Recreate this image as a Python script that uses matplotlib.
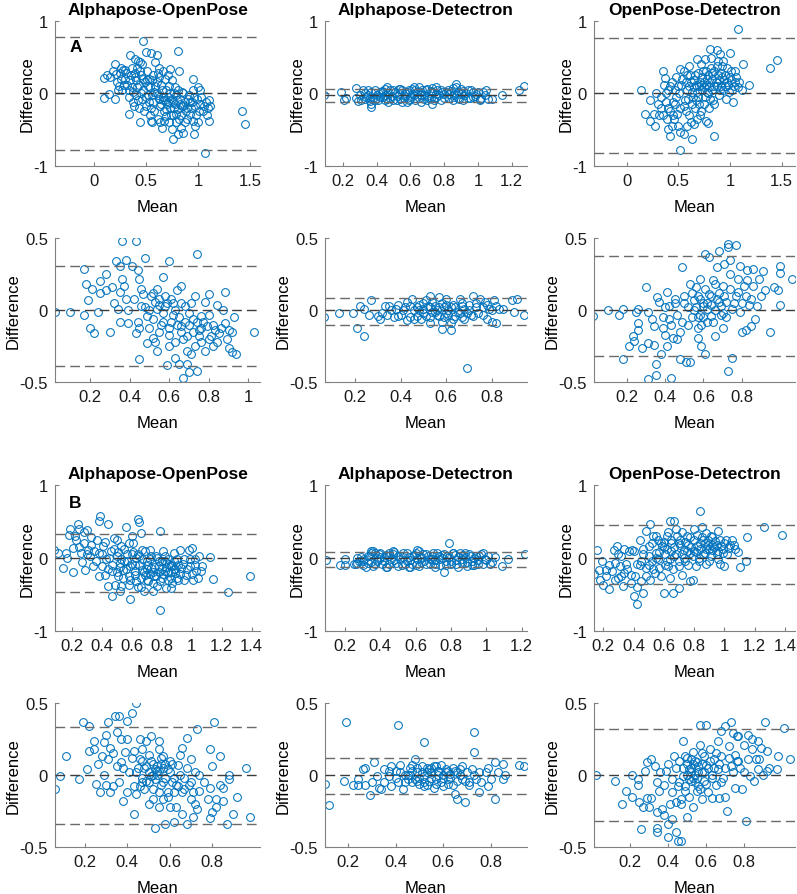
import matplotlib
matplotlib.use("Agg")
import matplotlib.pyplot as plt
from matplotlib.ticker import FuncFormatter

plt.rcParams['font.family'] = ['Liberation Sans', 'DejaVu Sans']
plt.rcParams['axes.unicode_minus'] = False

titles = ['Alphapose-OpenPose', 'Alphapose-Detectron', 'OpenPose-Detectron']

# ---- panel A, top row (full range) ----
a_ap_op = [(0.47, 0.72), (0.81, 0.58), (0.50, 0.57), (0.55, 0.56), (0.60, 0.53), (0.34, 0.53),
           (0.39, 0.47), (0.44, 0.43), (0.59, 0.43), (0.20, 0.40), (0.73, 0.34), (0.82, 0.30),
           (0.95, 0.19), (0.09, 0.21), (0.12, 0.25), (0.09, -0.06), (0.14, -0.01), (0.20, -0.08),
           (0.33, -0.28), (0.44, -0.40), (0.55, -0.38), (0.63, -0.40), (0.75, -0.49), (0.81, -0.56),
           (0.76, -0.63), (0.86, -0.55), (0.96, -0.56), (1.07, -0.83), (1.11, -0.38), (1.12, -0.18),
           (1.42, -0.25), (1.45, -0.42), (1.00, 0.08), (1.02, 0.04),
           (0.15, 0.22), (0.18, 0.30), (0.22, 0.15), (0.25, 0.28), (0.27, 0.05), (0.30, 0.20),
           (0.28, 0.32), (0.24, 0.10), (0.32, 0.12), (0.35, 0.25), (0.37, 0.02), (0.40, 0.18),
           (0.42, -0.10), (0.38, -0.18), (0.44, 0.30), (0.41, 0.08), (0.36, 0.35), (0.47, 0.20),
           (0.50, -0.05), (0.52, 0.10), (0.55, -0.20), (0.57, 0.25), (0.48, -0.25), (0.58, 0.02),
           (0.53, -0.12), (0.60, 0.15), (0.62, -0.08), (0.65, 0.05), (0.67, -0.25), (0.70, -0.15),
           (0.72, 0.10), (0.74, -0.30), (0.63, -0.18), (0.68, 0.20), (0.71, -0.05), (0.77, -0.20),
           (0.80, -0.10), (0.82, -0.35), (0.85, 0.02), (0.88, -0.25), (0.78, 0.08), (0.83, -0.15),
           (0.87, -0.40), (0.90, -0.08), (0.93, -0.20), (0.96, -0.05), (0.98, -0.30), (1.02, -0.15),
           (1.05, -0.25), (1.08, -0.12), (0.95, 0.05), (1.10, -0.20), (1.00, -0.40), (0.33, 0.05),
           (0.45, 0.00), (0.56, -0.02), (0.66, -0.10), (0.76, -0.12), (0.86, -0.18), (0.92, -0.12),
           (0.26, 0.20), (0.39, 0.28), (0.51, 0.18), (0.61, 0.28), (0.69, -0.32), (0.79, -0.28),
           (0.21, 0.27), (0.23, 0.05), (0.26, 0.35), (0.29, 0.12), (0.31, 0.28), (0.33, -0.05),
           (0.34, 0.18), (0.36, 0.08), (0.37, -0.12), (0.39, 0.22), (0.40, -0.02), (0.41, 0.35),
           (0.43, 0.12), (0.43, -0.20), (0.45, 0.25), (0.46, -0.08), (0.47, 0.05), (0.49, 0.15),
           (0.50, -0.18), (0.51, 0.30), (0.52, -0.02), (0.54, 0.08), (0.54, -0.30), (0.56, 0.18),
           (0.57, -0.12), (0.58, -0.25), (0.59, 0.10), (0.61, -0.02), (0.61, -0.35), (0.62, 0.22),
           (0.64, -0.15), (0.64, 0.12), (0.66, -0.05), (0.66, 0.30), (0.67, -0.38), (0.69, 0.05),
           (0.69, -0.22), (0.71, -0.12), (0.72, -0.40), (0.73, 0.00), (0.73, -0.20), (0.75, -0.08),
           (0.75, 0.18), (0.76, -0.30), (0.78, -0.15), (0.79, -0.02), (0.79, -0.40), (0.81, -0.22),
           (0.81, 0.05), (0.83, -0.08), (0.84, -0.30), (0.85, -0.18), (0.86, 0.00), (0.87, -0.12),
           (0.89, -0.35), (0.89, -0.20), (0.91, -0.02), (0.92, -0.28), (0.94, -0.12), (0.95, -0.38),
           (0.97, -0.18), (0.99, -0.08), (1.01, -0.25), (1.03, -0.05), (1.06, -0.18), (1.09, -0.30),
           (1.11, -0.10), (0.77, 0.00), (0.68, -0.10), (0.60, 0.00), (0.53, 0.20), (0.46, 0.40),
           (0.42, 0.45), (0.30, 0.32), (0.56, -0.40), (0.65, -0.48), (0.84, -0.48), (0.97, -0.45),
           (0.71, 0.25), (0.62, 0.35)]
a_ap_op_lines = [0.78, 0.0, -0.78]

a_ap_dt = [(0.09, -0.03), (0.19, 0.02), (0.21, -0.10), (0.22, -0.07), (0.28, 0.07), (0.37, -0.19),
           (0.37, -0.15), (0.46, 0.08), (0.87, 0.13), (1.05, 0.04), (1.08, -0.08), (1.14, -0.03),
           (1.24, 0.04), (1.27, 0.10), (0.73, -0.15), (1.01, -0.10),
           (0.28, -0.07), (0.30, -0.03), (0.31, -0.09), (0.33, 0.00), (0.34, -0.05), (0.36, -0.11),
           (0.37, 0.02), (0.38, -0.06), (0.40, -0.02), (0.41, -0.10), (0.43, 0.03), (0.44, -0.05),
           (0.46, -0.08), (0.47, 0.00), (0.49, -0.04), (0.50, 0.05), (0.52, -0.09), (0.53, -0.01),
           (0.55, 0.04), (0.56, -0.06), (0.58, 0.02), (0.59, -0.10), (0.61, 0.06), (0.62, -0.03),
           (0.64, 0.01), (0.65, -0.07), (0.67, 0.04), (0.68, -0.02), (0.70, 0.06), (0.71, -0.06),
           (0.73, 0.01), (0.74, -0.09), (0.76, 0.04), (0.77, -0.03), (0.79, 0.02), (0.80, -0.07),
           (0.82, 0.05), (0.83, -0.01), (0.85, 0.07), (0.86, -0.05), (0.88, 0.02), (0.89, -0.08),
           (0.91, 0.03), (0.92, -0.03), (0.94, 0.05), (0.95, -0.06), (0.97, 0.01), (0.98, -0.04),
           (1.00, 0.02), (1.02, -0.06), (1.04, -0.02), (1.06, -0.08), (0.45, 0.06), (0.60, -0.05),
           (0.70, -0.10), (0.75, 0.08), (0.90, 0.06), (0.55, -0.12), (0.65, 0.08), (0.35, 0.04),
           (0.29, -0.11), (0.32, 0.04), (0.33, -0.08), (0.35, -0.02), (0.36, -0.06), (0.39, 0.05),
           (0.39, -0.09), (0.42, -0.05), (0.42, 0.01), (0.45, -0.10), (0.45, -0.02), (0.48, 0.04),
           (0.48, -0.07), (0.50, -0.10), (0.51, 0.01), (0.52, -0.04), (0.54, 0.06), (0.54, -0.08),
           (0.57, 0.00), (0.57, -0.04), (0.59, 0.05), (0.60, -0.08), (0.61, -0.01), (0.63, 0.04),
           (0.63, -0.10), (0.66, -0.03), (0.66, 0.02), (0.68, -0.08), (0.69, 0.05), (0.70, -0.04),
           (0.72, 0.03), (0.72, -0.07), (0.75, -0.01), (0.75, -0.05), (0.78, 0.05), (0.78, -0.09),
           (0.80, -0.01), (0.81, 0.02), (0.83, -0.06), (0.84, 0.03), (0.86, -0.02), (0.87, 0.09),
           (0.88, -0.06), (0.90, -0.01), (0.91, -0.10), (0.93, 0.00), (0.94, -0.07), (0.96, 0.04),
           (0.97, -0.05), (0.99, -0.01), (1.01, -0.08), (1.03, 0.01), (0.62, 0.08), (0.53, 0.06),
           (0.44, 0.02), (0.73, 0.07), (0.85, -0.09), (0.58, -0.12), (0.66, -0.12), (0.47, -0.12)]
a_ap_dt_lines = [0.06, -0.03, -0.12]

a_op_dt = [(1.08, 0.88), (1.39, 0.35), (1.46, 0.46), (0.14, 0.04), (0.81, 0.61), (0.87, 0.59),
           (1.00, 0.55), (0.90, 0.54), (0.68, 0.47), (0.76, 0.47), (0.52, 0.33), (0.35, 0.31),
           (0.37, 0.21), (1.13, 0.40), (1.18, 0.11), (1.05, 0.31), (0.18, -0.28), (0.23, -0.38),
           (0.27, -0.45), (0.40, -0.49), (0.42, -0.59), (0.52, -0.79), (0.52, -0.54), (0.55, -0.56),
           (0.63, -0.63), (0.65, -0.42), (0.77, -0.38), (0.79, -0.41), (0.85, -0.59), (0.26, -0.28),
           (0.28, 0.00), (0.23, -0.10),
           (0.30, -0.15), (0.33, -0.05), (0.35, -0.30), (0.38, -0.12), (0.40, 0.05), (0.42, -0.25),
           (0.44, 0.15), (0.46, -0.35), (0.48, -0.05), (0.50, 0.10), (0.52, -0.20), (0.54, 0.20),
           (0.56, -0.10), (0.58, 0.05), (0.60, -0.30), (0.62, 0.15), (0.64, -0.05), (0.66, 0.25),
           (0.68, 0.02), (0.70, -0.15), (0.72, 0.12), (0.74, 0.30), (0.76, -0.05), (0.78, 0.20),
           (0.80, 0.08), (0.82, 0.35), (0.84, -0.10), (0.86, 0.15), (0.88, 0.25), (0.90, 0.05),
           (0.92, 0.38), (0.94, 0.18), (0.96, -0.08), (0.98, 0.12), (1.00, 0.22), (1.02, 0.05),
           (1.05, 0.15), (1.08, 0.08), (1.03, -0.12), (0.66, -0.20), (0.58, 0.25), (0.48, 0.22),
           (0.44, -0.45), (0.36, 0.12), (0.62, -0.40), (0.72, -0.25), (0.88, 0.45), (0.80, -0.20),
           (0.70, 0.10), (0.75, 0.15), (0.85, 0.10), (0.95, 0.10), (0.65, 0.08), (0.78, 0.02),
           (0.92, 0.22), (0.83, 0.28), (0.57, -0.25), (0.47, -0.15), (0.39, -0.35), (0.31, -0.30),
           (0.40, -0.20), (0.42, 0.10), (0.45, -0.12), (0.47, 0.05), (0.49, -0.28), (0.51, 0.00),
           (0.53, 0.12), (0.55, -0.18), (0.57, 0.15), (0.59, -0.08), (0.60, 0.10), (0.61, 0.25),
           (0.63, 0.02), (0.63, -0.15), (0.65, 0.18), (0.67, -0.10), (0.67, 0.12), (0.69, 0.28),
           (0.69, -0.05), (0.71, 0.15), (0.71, -0.30), (0.73, 0.05), (0.73, 0.22), (0.75, 0.08),
           (0.75, -0.15), (0.77, 0.30), (0.77, 0.12), (0.79, 0.00), (0.79, 0.25), (0.81, 0.15),
           (0.81, -0.08), (0.83, 0.20), (0.83, 0.05), (0.85, 0.30), (0.85, -0.15), (0.87, 0.10),
           (0.87, 0.38), (0.89, 0.18), (0.89, -0.02), (0.91, 0.28), (0.91, 0.10), (0.93, 0.05),
           (0.93, 0.45), (0.95, 0.25), (0.97, 0.15), (0.97, 0.35), (0.99, 0.02), (1.01, 0.18),
           (1.01, 0.30), (1.04, 0.10), (1.06, 0.22), (1.09, 0.15), (1.12, 0.05), (0.55, 0.30),
           (0.50, -0.45), (0.58, -0.45), (0.68, -0.35), (0.45, -0.30), (0.38, 0.00), (0.33, -0.20),
           (0.60, 0.38), (0.72, 0.40), (0.82, 0.48)]
a_op_dt_lines = [0.76, 0.0, -0.82]

# ---- panel A, second row ----
a2_ap_op = [(0.023, -0.01), (0.10, -0.01), (0.17, 0.29), (0.18, 0.18), (0.19, 0.07), (0.17, -0.03),
            (0.20, -0.12), (0.22, -0.16), (0.21, 0.15), (0.24, -0.01), (0.25, 0.20), (0.25, 0.12),
            (0.28, 0.25), (0.28, 0.14), (0.31, 0.16), (0.30, -0.15), (0.33, 0.34), (0.35, 0.31),
            (0.36, 0.48), (0.35, 0.13), (0.37, 0.17), (0.34, 0.01), (0.35, -0.08), (0.38, 0.35),
            (0.38, 0.08), (0.39, -0.09), (0.41, 0.31), (0.43, 0.48), (0.43, -0.16), (0.44, 0.28),
            (0.45, 0.22), (0.45, -0.34), (0.46, 0.03), (0.47, 0.11), (0.49, -0.23), (0.48, 0.36),
            (0.49, -0.04), (0.51, 0.10), (0.52, -0.19), (0.54, 0.15), (0.54, -0.28), (0.54, 0.01),
            (0.57, 0.23), (0.57, -0.08), (0.58, 0.03), (0.59, -0.38), (0.60, -0.17), (0.60, 0.34),
            (0.61, 0.08), (0.62, -0.03), (0.63, -0.22), (0.64, 0.14), (0.63, -0.33), (0.65, -0.37),
            (0.66, -0.11), (0.66, 0.17), (0.67, -0.47), (0.68, 0.03), (0.69, -0.18), (0.69, -0.37),
            (0.70, -0.43), (0.71, -0.30), (0.72, -0.06), (0.73, 0.10), (0.74, 0.39), (0.74, -0.42),
            (0.75, -0.14), (0.76, -0.04), (0.76, -0.22), (0.78, 0.06), (0.79, -0.11), (0.80, 0.11),
            (0.80, -0.03), (0.81, -0.18), (0.82, -0.25), (0.83, -0.14), (0.84, 0.04), (0.85, -0.16),
            (0.88, 0.13), (0.88, -0.09), (0.89, -0.20), (0.90, -0.26), (0.90, -0.14), (0.92, -0.15),
            (0.92, -0.29), (0.93, -0.05), (0.94, -0.30), (1.03, -0.15),
            (0.50, 0.00), (0.52, -0.06), (0.55, 0.04), (0.57, -0.02), (0.59, 0.05), (0.61, -0.08),
            (0.63, 0.00), (0.56, -0.10), (0.53, 0.06), (0.48, 0.02), (0.65, -0.05), (0.60, -0.12),
            (0.68, -0.08), (0.70, -0.02), (0.72, -0.15), (0.74, -0.08), (0.76, -0.12), (0.66, -0.15),
            (0.42, 0.08), (0.44, -0.08), (0.46, 0.15), (0.50, -0.12), (0.52, 0.12), (0.55, -0.15),
            (0.58, 0.10), (0.60, -0.25), (0.62, 0.05), (0.64, -0.10), (0.67, -0.20), (0.70, -0.10),
            (0.71, 0.05), (0.73, -0.25), (0.75, -0.18), (0.77, -0.08), (0.78, -0.28), (0.80, -0.20),
            (0.82, -0.10), (0.84, -0.22), (0.86, -0.12), (0.87, 0.00), (0.55, 0.08), (0.45, -0.12),
            (0.39, 0.00), (0.36, 0.22), (0.32, 0.05), (0.66, 0.05), (0.69, -0.28), (0.53, -0.22)]
a2_ap_op_lines = [0.308, 0.0, -0.389]

a2_ap_dt = [(0.065, -0.05), (0.13, -0.02), (0.19, -0.02), (0.21, -0.12), (0.22, 0.03), (0.24, 0.01),
            (0.24, -0.18), (0.26, -0.03), (0.27, 0.07), (0.30, -0.04), (0.31, -0.06), (0.33, 0.03),
            (0.35, 0.03), (0.34, -0.03), (0.37, -0.05), (0.38, 0.01), (0.39, 0.04), (0.40, -0.03),
            (0.42, 0.02), (0.43, -0.07), (0.45, 0.08), (0.46, 0.00), (0.47, -0.04), (0.48, 0.04),
            (0.49, -0.06), (0.50, 0.01), (0.51, 0.07), (0.53, 0.10), (0.53, -0.09), (0.54, -0.01),
            (0.55, 0.03), (0.57, 0.09), (0.57, -0.04), (0.58, -0.13), (0.59, 0.02), (0.60, 0.08),
            (0.61, -0.03), (0.62, -0.09), (0.62, -0.14), (0.63, 0.04), (0.65, -0.01), (0.66, 0.08),
            (0.67, -0.05), (0.68, 0.01), (0.69, -0.40), (0.70, 0.04), (0.71, -0.03), (0.72, 0.10),
            (0.73, 0.02), (0.75, 0.08), (0.76, -0.03), (0.77, 0.06), (0.78, -0.06), (0.79, 0.01),
            (0.80, -0.08), (0.81, 0.07), (0.82, -0.09), (0.83, 0.01), (0.85, 0.01), (0.89, 0.07),
            (0.91, 0.08), (0.90, -0.01), (0.94, -0.03),
            (0.50, -0.02), (0.52, 0.03), (0.55, -0.01), (0.58, 0.05), (0.60, -0.02), (0.62, 0.02),
            (0.64, -0.04), (0.56, 0.00), (0.53, -0.05), (0.67, 0.03), (0.69, -0.02), (0.47, 0.02),
            (0.44, -0.05), (0.41, 0.00),
            (0.44, 0.03), (0.46, -0.06), (0.48, 0.00), (0.50, 0.05), (0.51, -0.04), (0.53, 0.02),
            (0.54, 0.06), (0.56, -0.03), (0.57, 0.02), (0.59, -0.05), (0.60, 0.04), (0.61, 0.00),
            (0.63, -0.06), (0.64, 0.02), (0.66, -0.02), (0.67, 0.05), (0.68, -0.06), (0.70, 0.00),
            (0.72, -0.04), (0.73, 0.05), (0.74, -0.02), (0.76, 0.02), (0.78, 0.04), (0.80, 0.00),
            (0.82, 0.03), (0.39, -0.04), (0.36, 0.00), (0.32, -0.02), (0.43, 0.06), (0.58, -0.08)]
a2_ap_dt_lines = [0.088, 0.0, -0.104]

a2_op_dt = [(0.026, -0.04), (0.10, 0.00), (0.16, -0.03), (0.18, 0.01), (0.18, -0.34), (0.21, -0.25),
            (0.23, -0.18), (0.24, -0.21), (0.25, -0.01), (0.26, 0.01), (0.26, -0.14), (0.26, -0.09),
            (0.28, -0.26), (0.30, 0.16), (0.31, -0.23), (0.31, -0.48), (0.31, -0.01), (0.33, -0.06),
            (0.34, -0.11), (0.34, -0.24), (0.35, -0.45), (0.35, -0.37), (0.36, 0.09), (0.37, 0.06),
            (0.38, -0.30), (0.39, -0.05), (0.39, -0.12), (0.40, -0.17), (0.41, 0.13), (0.41, -0.25),
            (0.42, 0.03), (0.42, -0.06), (0.43, -0.47), (0.44, -0.19), (0.45, 0.08), (0.46, -0.03),
            (0.46, -0.20), (0.48, -0.34), (0.49, 0.30), (0.49, -0.08), (0.50, 0.10), (0.51, -0.36),
            (0.53, -0.36), (0.52, 0.02), (0.53, 0.18), (0.54, -0.05), (0.55, 0.07), (0.56, 0.16),
            (0.57, -0.12), (0.57, -0.19), (0.58, 0.22), (0.59, -0.25), (0.60, 0.03), (0.61, -0.30),
            (0.61, 0.39), (0.62, 0.01), (0.63, 0.37), (0.63, 0.11), (0.64, -0.04), (0.65, 0.21),
            (0.66, -0.18), (0.67, 0.30), (0.67, 0.08), (0.68, 0.41), (0.69, -0.03), (0.70, -0.12),
            (0.70, 0.17), (0.71, 0.32), (0.72, 0.06), (0.73, 0.46), (0.73, 0.44), (0.73, -0.42),
            (0.74, 0.35), (0.74, 0.25), (0.75, -0.33), (0.75, 0.01), (0.77, 0.10), (0.77, 0.45),
            (0.78, 0.22), (0.79, 0.31), (0.79, -0.01), (0.80, -0.15), (0.81, 0.17), (0.82, -0.14),
            (0.83, 0.21), (0.83, 0.28), (0.84, 0.04), (0.85, -0.11), (0.85, 0.08), (0.86, 0.29),
            (0.86, 0.17), (0.87, -0.06), (0.88, 0.03), (0.89, 0.22), (0.90, 0.10), (0.91, 0.27),
            (0.92, 0.14), (0.95, -0.15), (0.97, 0.16), (0.99, 0.14), (1.00, 0.31), (1.00, 0.26),
            (1.00, 0.04), (1.06, 0.22),
            (0.55, 0.00), (0.58, -0.03), (0.60, 0.05), (0.62, -0.08), (0.64, 0.04), (0.57, 0.10),
            (0.59, -0.10), (0.66, 0.00), (0.68, 0.06), (0.70, -0.02),
            (0.50, 0.05), (0.52, -0.10), (0.54, 0.12), (0.56, 0.02), (0.58, 0.08), (0.60, -0.05),
            (0.61, 0.15), (0.62, 0.05), (0.64, 0.10), (0.65, -0.08), (0.66, 0.18), (0.68, 0.12),
            (0.69, 0.03), (0.71, 0.10), (0.72, -0.05), (0.74, 0.15), (0.76, 0.05), (0.78, 0.13),
            (0.80, 0.05), (0.82, 0.10), (0.45, 0.05), (0.43, -0.10), (0.40, 0.02), (0.48, -0.15),
            (0.57, -0.05)]
a2_op_dt_lines = [0.38, 0.0, -0.315]

# ---- panel B, third row (full range) ----
b_ap_op = [(0.08, 0.11), (0.11, 0.06), (0.14, -0.14), (0.16, 0.07), (0.17, 0.00), (0.18, 0.32),
           (0.19, 0.39), (0.21, 0.14), (0.21, -0.20), (0.23, 0.25), (0.24, 0.46), (0.25, 0.39),
           (0.26, 0.07), (0.27, -0.06), (0.28, 0.21), (0.29, -0.16), (0.30, 0.38), (0.31, 0.11),
           (0.32, 0.02), (0.33, 0.18), (0.34, -0.11), (0.37, 0.25), (0.38, 0.07), (0.38, 0.50),
           (0.39, 0.58), (0.40, -0.11), (0.41, 0.16), (0.42, -0.24), (0.43, -0.02), (0.44, 0.46),
           (0.44, -0.39), (0.46, 0.09), (0.47, -0.53), (0.47, -0.18), (0.48, 0.27), (0.49, -0.37),
           (0.50, 0.02), (0.51, -0.25), (0.52, -0.07), (0.53, 0.16), (0.53, -0.39), (0.54, -0.16),
           (0.56, 0.43), (0.57, 0.05), (0.58, -0.37), (0.59, -0.57), (0.59, -0.11), (0.61, 0.21),
           (0.62, -0.23), (0.63, 0.00), (0.64, -0.40), (0.64, 0.54), (0.65, 0.49), (0.66, 0.34),
           (0.67, -0.16), (0.67, 0.11), (0.68, -0.46), (0.69, -0.23), (0.70, -0.05), (0.71, -0.32),
           (0.72, 0.11), (0.73, -0.14), (0.75, -0.25), (0.76, 0.02), (0.77, -0.39), (0.78, -0.11),
           (0.79, 0.37), (0.79, -0.72), (0.80, -0.27), (0.81, 0.09), (0.82, -0.18), (0.83, -0.41),
           (0.84, -0.02), (0.86, -0.27), (0.87, -0.11), (0.88, 0.07), (0.89, -0.21), (0.90, -0.02),
           (0.91, -0.30), (0.92, 0.11), (0.93, -0.14), (0.95, -0.02), (0.96, -0.23), (0.98, 0.11),
           (0.99, -0.11), (1.00, 0.14), (1.01, -0.30), (1.02, -0.02), (1.03, -0.18), (1.05, 0.02),
           (1.07, -0.11), (1.12, 0.01), (1.14, -0.29), (1.24, -0.47), (1.39, -0.25),
           (0.55, -0.05), (0.60, 0.05), (0.62, -0.10), (0.65, 0.02), (0.70, -0.15), (0.72, -0.02),
           (0.74, -0.20), (0.78, -0.05), (0.80, -0.15), (0.82, -0.05), (0.84, -0.20), (0.86, -0.10),
           (0.88, -0.15), (0.66, -0.28), (0.58, -0.25), (0.52, -0.12),
           (0.45, 0.00), (0.47, -0.10), (0.48, 0.12), (0.50, -0.20), (0.51, 0.08), (0.53, -0.02),
           (0.54, -0.28), (0.55, 0.12), (0.56, -0.15), (0.57, -0.05), (0.58, 0.20), (0.59, -0.30),
           (0.60, -0.08), (0.61, 0.08), (0.62, -0.18), (0.63, -0.32), (0.64, 0.05), (0.65, -0.10),
           (0.66, -0.40), (0.67, -0.02), (0.68, -0.20), (0.69, 0.10), (0.70, -0.30), (0.71, -0.10),
           (0.72, -0.22), (0.73, 0.02), (0.74, -0.35), (0.75, -0.12), (0.76, -0.25), (0.77, 0.00),
           (0.78, -0.20), (0.79, -0.32), (0.80, -0.05), (0.81, -0.22), (0.82, 0.02), (0.83, -0.12),
           (0.84, -0.30), (0.85, -0.08), (0.86, -0.20), (0.87, -0.35), (0.88, -0.05), (0.89, -0.15),
           (0.90, -0.28), (0.91, -0.10), (0.92, -0.22), (0.94, -0.08), (0.95, -0.30), (0.97, -0.15),
           (0.99, -0.02), (1.00, -0.22), (1.02, -0.10), (1.04, -0.28), (1.06, -0.18), (0.40, 0.05),
           (0.35, 0.10), (0.30, 0.05), (0.25, 0.15), (0.22, 0.30), (0.28, 0.35), (0.33, 0.28),
           (0.42, 0.22), (0.36, -0.05), (0.44, -0.15), (0.38, -0.25), (0.50, 0.25), (0.60, 0.30),
           (0.52, -0.45), (0.74, -0.45), (0.86, -0.42)]
b_ap_op_lines = [0.33, 0.0, -0.47]

b_ap_dt = [(0.09, -0.03), (0.17, -0.10), (0.20, -0.10), (0.20, -0.02), (0.25, -0.08), (0.27, 0.00),
           (0.35, 0.09), (0.79, 0.21), (0.76, -0.20), (1.09, -0.11), (1.12, -0.02), (1.05, 0.01),
           (1.22, 0.05), (0.98, 0.07), (0.61, 0.11),
           (0.26, -0.09), (0.28, -0.05), (0.30, -0.10), (0.31, -0.02), (0.33, -0.07), (0.34, 0.03),
           (0.36, -0.11), (0.37, 0.06), (0.38, -0.04), (0.40, 0.01), (0.41, -0.08), (0.43, 0.04),
           (0.44, -0.12), (0.46, -0.02), (0.47, 0.05), (0.49, -0.07), (0.50, 0.02), (0.52, -0.10),
           (0.53, 0.06), (0.55, -0.04), (0.56, 0.01), (0.58, -0.08), (0.59, 0.04), (0.61, -0.02),
           (0.62, -0.11), (0.64, 0.05), (0.65, -0.05), (0.67, 0.02), (0.68, -0.08), (0.70, 0.07),
           (0.71, -0.03), (0.73, 0.03), (0.74, -0.10), (0.76, 0.05), (0.77, -0.05), (0.79, 0.01),
           (0.80, -0.09), (0.82, 0.04), (0.83, -0.03), (0.85, 0.06), (0.86, -0.07), (0.88, 0.01),
           (0.89, -0.11), (0.91, 0.03), (0.92, -0.04), (0.94, 0.02), (0.95, -0.08), (0.97, 0.05),
           (0.99, -0.02), (1.01, 0.02), (1.03, -0.06), (0.45, 0.07), (0.57, -0.12), (0.69, -0.01),
           (0.81, 0.07), (0.93, -0.10), (0.39, 0.05), (0.63, 0.00), (0.75, 0.00),
           (0.27, -0.07), (0.29, 0.01), (0.30, -0.05), (0.32, -0.12), (0.33, 0.02), (0.35, -0.06),
           (0.35, 0.07), (0.37, -0.09), (0.39, -0.01), (0.40, 0.06), (0.42, -0.05), (0.42, 0.01),
           (0.45, -0.08), (0.45, 0.03), (0.48, -0.03), (0.48, 0.08), (0.50, -0.11), (0.51, -0.02),
           (0.53, 0.01), (0.54, -0.08), (0.55, 0.07), (0.57, -0.03), (0.58, 0.02), (0.60, -0.10),
           (0.60, 0.06), (0.63, -0.06), (0.63, 0.01), (0.66, -0.09), (0.66, 0.05), (0.68, -0.02),
           (0.69, 0.03), (0.71, -0.09), (0.72, 0.06), (0.74, -0.02), (0.75, 0.04), (0.77, -0.10),
           (0.78, 0.02), (0.80, -0.04), (0.81, 0.06), (0.83, -0.09), (0.84, 0.01), (0.86, -0.02),
           (0.87, 0.04), (0.89, -0.06), (0.90, 0.05), (0.92, -0.10), (0.93, 0.00), (0.95, -0.03),
           (0.96, 0.03), (0.98, -0.08), (1.00, -0.03), (1.02, -0.09), (0.43, -0.12), (0.56, -0.12),
           (0.71, -0.12), (0.84, -0.12), (0.62, 0.09), (0.47, 0.09), (0.36, 0.09), (0.88, 0.07)]
b_ap_dt_lines = [0.078, 0.0, -0.119]

b_op_dt = [(0.14, -0.22), (0.16, 0.11), (0.17, -0.16), (0.18, -0.30), (0.19, -0.05), (0.20, -0.37),
           (0.22, -0.16), (0.24, -0.43), (0.26, -0.18), (0.27, 0.11), (0.28, -0.07), (0.29, 0.16),
           (0.30, -0.27), (0.31, -0.11), (0.32, 0.02), (0.33, -0.39), (0.34, -0.21), (0.35, -0.08),
           (0.37, 0.09), (0.38, -0.23), (0.39, 0.11), (0.40, -0.52), (0.41, -0.25), (0.42, -0.63),
           (0.42, -0.09), (0.44, 0.25), (0.45, -0.32), (0.46, -0.48), (0.46, 0.05), (0.48, 0.37),
           (0.48, -0.14), (0.50, 0.16), (0.51, -0.31), (0.51, 0.46), (0.52, -0.05), (0.53, 0.30),
           (0.54, -0.21), (0.55, 0.07), (0.56, 0.25), (0.57, -0.14), (0.59, 0.16), (0.60, -0.48),
           (0.61, 0.05), (0.62, 0.30), (0.63, -0.11), (0.64, 0.50), (0.64, -0.27), (0.65, 0.21),
           (0.66, -0.48), (0.67, 0.50), (0.67, 0.02), (0.68, 0.39), (0.70, -0.11), (0.70, -0.41),
           (0.71, 0.25), (0.72, -0.23), (0.73, 0.11), (0.74, -0.05), (0.75, 0.30), (0.77, 0.07),
           (0.77, -0.32), (0.79, -0.30), (0.80, 0.40), (0.81, -0.11), (0.82, 0.16), (0.83, 0.00),
           (0.84, 0.64), (0.85, 0.43), (0.86, 0.25), (0.87, 0.07), (0.88, 0.34), (0.89, 0.17),
           (0.90, -0.05), (0.91, 0.30), (0.92, 0.11), (0.94, 0.23), (0.95, 0.05), (0.96, 0.37),
           (0.97, -0.09), (0.98, 0.16), (0.99, 0.07), (1.00, -0.11), (1.01, 0.25), (1.03, 0.14),
           (1.05, 0.25), (1.06, 0.17), (1.09, 0.08), (1.10, -0.12), (1.14, -0.04), (1.15, 0.29),
           (1.26, 0.43), (1.38, 0.31),
           (0.60, 0.15), (0.65, 0.10), (0.70, 0.20), (0.72, 0.05), (0.76, 0.18), (0.80, 0.10),
           (0.84, 0.20), (0.88, 0.12), (0.92, 0.18), (0.96, 0.10), (0.55, 0.00), (0.50, -0.10),
           (0.45, -0.05), (0.58, 0.20), (0.62, -0.05),
           (0.44, -0.10), (0.46, 0.12), (0.48, -0.25), (0.50, 0.02), (0.52, 0.20), (0.53, -0.15),
           (0.55, 0.30), (0.56, -0.02), (0.57, 0.08), (0.58, -0.25), (0.60, 0.22), (0.61, -0.10),
           (0.62, 0.12), (0.63, 0.35), (0.64, -0.02), (0.65, 0.25), (0.66, -0.15), (0.67, 0.15),
           (0.68, 0.05), (0.69, 0.30), (0.70, -0.05), (0.71, 0.18), (0.72, 0.35), (0.73, 0.00),
           (0.74, 0.22), (0.75, 0.10), (0.76, -0.10), (0.77, 0.28), (0.78, 0.15), (0.79, 0.02),
           (0.80, 0.25), (0.81, 0.08), (0.82, 0.32), (0.83, -0.05), (0.84, 0.12), (0.85, 0.28),
           (0.86, 0.05), (0.87, 0.20), (0.88, -0.08), (0.89, 0.25), (0.90, 0.12), (0.91, 0.02),
           (0.92, 0.28), (0.93, 0.15), (0.95, 0.18), (0.96, -0.02), (0.97, 0.25), (0.99, 0.12),
           (1.00, 0.20), (1.02, 0.05), (1.04, 0.18), (1.07, 0.12), (0.36, -0.15), (0.32, -0.25),
           (0.28, -0.30), (0.24, -0.10), (0.22, -0.25), (0.40, 0.10), (0.38, -0.35), (0.30, 0.05),
           (0.34, 0.12), (0.42, -0.40)]
b_op_dt_lines = [0.45, 0.0, -0.357]

# ---- panel B, bottom row ----
b2_ap_op = [(0.06, -0.10), (0.08, -0.01), (0.11, 0.13), (0.17, -0.03), (0.19, 0.37), (0.21, 0.04),
            (0.22, 0.34), (0.22, 0.17), (0.24, 0.24), (0.24, 0.18), (0.25, -0.06), (0.26, 0.08),
            (0.27, -0.12), (0.28, 0.13), (0.29, 0.23), (0.29, 0.00), (0.30, 0.28), (0.30, -0.07),
            (0.31, 0.37), (0.31, 0.11), (0.32, -0.12), (0.32, 0.19), (0.33, -0.08), (0.34, 0.41),
            (0.35, 0.06), (0.35, 0.30), (0.36, -0.05), (0.36, 0.41), (0.37, 0.25), (0.37, 0.09),
            (0.38, -0.18), (0.39, 0.16), (0.40, 0.38), (0.40, -0.12), (0.40, 0.25), (0.41, 0.02),
            (0.42, 0.43), (0.43, -0.08), (0.43, 0.17), (0.43, -0.27), (0.44, -0.13), (0.44, 0.50),
            (0.45, 0.05), (0.46, 0.25), (0.46, 0.11), (0.47, -0.05), (0.47, 0.18), (0.48, -0.10),
            (0.49, 0.24), (0.50, -0.20), (0.50, 0.14), (0.51, -0.01), (0.51, 0.27), (0.52, -0.17),
            (0.53, -0.37), (0.54, 0.06), (0.55, 0.18), (0.55, 0.24), (0.55, -0.22), (0.56, -0.07),
            (0.57, -0.17), (0.57, 0.13), (0.58, -0.34), (0.59, 0.04), (0.59, -0.12), (0.60, -0.22),
            (0.61, 0.08), (0.62, -0.33), (0.63, -0.07), (0.63, -0.22), (0.64, 0.07), (0.65, 0.14),
            (0.66, 0.19), (0.66, -0.27), (0.66, -0.12), (0.67, -0.02), (0.68, 0.26), (0.68, -0.34),
            (0.69, -0.07), (0.70, 0.11), (0.70, -0.17), (0.71, -0.29), (0.72, 0.02), (0.73, -0.24),
            (0.73, 0.32), (0.74, -0.11), (0.76, -0.05), (0.78, -0.17), (0.79, 0.18), (0.79, -0.09),
            (0.79, -0.30), (0.80, 0.06), (0.80, -0.26), (0.81, 0.37), (0.82, -0.22), (0.82, -0.17),
            (0.84, -0.07), (0.84, 0.13), (0.85, -0.18), (0.85, -0.09), (0.87, -0.34), (0.88, 0.00),
            (0.88, -0.03), (0.90, -0.27), (0.92, -0.15), (0.96, 0.05), (0.98, -0.29),
            (0.48, 0.05), (0.50, 0.02), (0.52, 0.08), (0.53, -0.03), (0.55, 0.03), (0.56, 0.08),
            (0.58, -0.02), (0.60, 0.02), (0.49, -0.04), (0.54, 0.00), (0.57, 0.05), (0.62, -0.02),
            (0.44, 0.02), (0.46, -0.08), (0.47, 0.10), (0.49, 0.06), (0.50, -0.05), (0.51, 0.10),
            (0.52, -0.10), (0.53, 0.04), (0.55, -0.12), (0.56, 0.12), (0.57, -0.05), (0.58, 0.08),
            (0.59, -0.15), (0.60, 0.10), (0.61, -0.05), (0.62, -0.12), (0.64, -0.08), (0.65, 0.00),
            (0.67, -0.10), (0.68, 0.05), (0.70, -0.05), (0.71, -0.12), (0.72, -0.20), (0.74, 0.00),
            (0.52, 0.00), (0.54, 0.03), (0.47, -0.02), (0.42, 0.12), (0.38, 0.05), (0.33, 0.15)]
b2_ap_op_lines = [0.333, 0.0, -0.342]

b2_ap_dt = [(0.10, -0.06), (0.12, -0.21), (0.18, -0.04), (0.19, 0.37), (0.22, -0.07), (0.24, -0.03),
            (0.24, -0.07), (0.26, 0.04), (0.27, 0.05), (0.27, -0.07), (0.29, -0.14), (0.30, -0.05),
            (0.31, 0.09), (0.32, -0.01), (0.33, -0.09), (0.34, -0.10), (0.35, 0.04), (0.37, -0.01),
            (0.38, 0.06), (0.38, -0.08), (0.40, 0.03), (0.41, 0.35), (0.41, -0.05), (0.42, 0.07),
            (0.43, -0.10), (0.44, 0.00), (0.45, -0.03), (0.46, 0.05), (0.47, -0.05), (0.48, 0.11),
            (0.49, 0.02), (0.49, -0.04), (0.51, 0.06), (0.52, -0.01), (0.52, 0.23), (0.53, -0.07),
            (0.54, 0.04), (0.55, -0.02), (0.56, -0.09), (0.57, 0.06), (0.58, 0.00), (0.59, -0.05),
            (0.59, 0.07), (0.60, -0.08), (0.61, 0.02), (0.62, -0.03), (0.64, 0.05), (0.64, -0.07),
            (0.65, -0.13), (0.66, -0.17), (0.67, 0.00), (0.68, 0.06), (0.69, -0.19), (0.69, -0.04),
            (0.71, -0.07), (0.72, 0.04), (0.73, 0.30), (0.73, 0.16), (0.74, -0.03), (0.75, -0.12),
            (0.76, -0.05), (0.78, 0.02), (0.79, -0.08), (0.79, 0.05), (0.80, -0.03), (0.82, 0.09),
            (0.82, -0.17), (0.83, 0.02), (0.85, -0.03), (0.85, 0.08), (0.86, 0.00), (0.92, 0.07),
            (0.94, 0.06),
            (0.45, 0.00), (0.50, -0.02), (0.53, 0.02), (0.55, 0.05), (0.57, -0.03), (0.60, 0.00),
            (0.62, 0.03), (0.47, 0.03), (0.52, -0.05), (0.58, 0.03), (0.63, -0.02), (0.66, 0.02),
            (0.42, 0.02), (0.44, -0.05), (0.46, 0.00), (0.48, -0.03), (0.49, 0.05), (0.50, -0.06),
            (0.51, 0.02), (0.53, 0.05), (0.54, -0.04), (0.55, 0.02), (0.56, 0.06), (0.57, -0.06),
            (0.58, 0.03), (0.60, -0.02), (0.61, 0.04), (0.62, -0.06), (0.63, 0.01), (0.65, 0.03),
            (0.66, -0.04), (0.67, 0.04), (0.68, -0.03), (0.70, 0.02), (0.71, -0.05), (0.73, 0.00),
            (0.75, 0.02), (0.40, -0.02), (0.37, 0.03), (0.35, -0.05), (0.47, 0.07), (0.52, -0.08)]
b2_ap_dt_lines = [0.121, 0.0, -0.13]

b2_op_dt = [(0.02, 0.00), (0.12, -0.04), (0.16, -0.20), (0.18, -0.11), (0.21, 0.00), (0.21, -0.15),
            (0.24, -0.07), (0.24, -0.03), (0.25, -0.19), (0.26, -0.38), (0.27, -0.22), (0.28, 0.03),
            (0.29, -0.16), (0.29, 0.09), (0.30, -0.22), (0.31, 0.11), (0.31, -0.16), (0.33, 0.06),
            (0.34, -0.05), (0.34, -0.26), (0.34, -0.37), (0.34, -0.40), (0.35, -0.11), (0.36, 0.02),
            (0.37, -0.24), (0.38, -0.07), (0.38, -0.28), (0.39, 0.03), (0.40, -0.43), (0.40, -0.34),
            (0.41, -0.20), (0.42, -0.03), (0.42, -0.31), (0.43, 0.13), (0.44, -0.40), (0.44, -0.19),
            (0.45, -0.46), (0.45, -0.08), (0.46, 0.10), (0.47, -0.46), (0.47, -0.17), (0.48, -0.01),
            (0.48, 0.24), (0.49, 0.13), (0.49, -0.11), (0.50, -0.29), (0.51, 0.04), (0.51, -0.15),
            (0.52, 0.11), (0.52, -0.04), (0.53, -0.22), (0.53, 0.16), (0.54, 0.00), (0.55, -0.11),
            (0.55, 0.09), (0.56, -0.08), (0.57, 0.35), (0.57, 0.21), (0.58, 0.02), (0.58, -0.17),
            (0.59, 0.13), (0.59, -0.04), (0.60, 0.35), (0.60, 0.07), (0.61, -0.12), (0.62, 0.18),
            (0.63, 0.00), (0.63, -0.16), (0.64, 0.11), (0.65, -0.07), (0.66, 0.24), (0.66, 0.04),
            (0.67, -0.16), (0.68, 0.31), (0.68, 0.13), (0.69, -0.02), (0.70, 0.34), (0.70, -0.15),
            (0.71, -0.25), (0.72, 0.20), (0.73, 0.06), (0.73, 0.37), (0.74, 0.29), (0.75, -0.09),
            (0.75, 0.14), (0.76, 0.27), (0.77, 0.10), (0.77, 0.27), (0.79, -0.10), (0.80, 0.02),
            (0.80, 0.21), (0.81, -0.32), (0.82, 0.11), (0.82, 0.28), (0.83, -0.01), (0.84, 0.18),
            (0.84, 0.25), (0.85, -0.04), (0.86, 0.11), (0.87, 0.24), (0.87, 0.04), (0.88, 0.11),
            (0.89, 0.19), (0.90, 0.00), (0.91, 0.37), (0.92, 0.17), (0.92, 0.03), (0.93, 0.05),
            (0.97, 0.04), (0.98, 0.13), (1.01, 0.33), (1.04, 0.11),
            (0.50, 0.00), (0.52, 0.05), (0.54, -0.05), (0.56, 0.02), (0.58, 0.08), (0.50, 0.08),
            (0.53, -0.02),
            (0.46, -0.05), (0.48, 0.05), (0.49, -0.08), (0.50, 0.12), (0.51, -0.03), (0.52, 0.02),
            (0.53, 0.08), (0.54, 0.10), (0.55, -0.02), (0.56, 0.06), (0.57, -0.10), (0.58, 0.15),
            (0.59, 0.02), (0.60, -0.06), (0.61, 0.05), (0.62, 0.10), (0.63, -0.02), (0.64, 0.05),
            (0.65, 0.15), (0.67, 0.08), (0.68, -0.05), (0.70, 0.05), (0.72, 0.12), (0.74, 0.02),
            (0.76, 0.10), (0.78, 0.05), (0.44, 0.05), (0.42, -0.12), (0.40, 0.08), (0.47, -0.20)]
b2_op_dt_lines = [0.323, 0.0, -0.321]

# axis settings
xlims = [[(-0.379, 1.598), (0.095, 1.29), (-0.317, 1.63)],
         [(0.023, 1.059), (0.068, 0.955), (0.029, 1.078)],
         [(0.089, 1.455), (0.087, 1.23), (0.139, 1.466)],
         [(0.058, 1.027), (0.102, 0.953), (0.011, 1.067)]]
xticks = [[[0, 0.5, 1, 1.5], [0.2, 0.4, 0.6, 0.8, 1, 1.2], [0, 0.5, 1, 1.5]],
          [[0.2, 0.4, 0.6, 0.8, 1], [0.2, 0.4, 0.6, 0.8], [0.2, 0.4, 0.6, 0.8]],
          [[0.2, 0.4, 0.6, 0.8, 1, 1.2, 1.4], [0.2, 0.4, 0.6, 0.8, 1, 1.2], [0.2, 0.4, 0.6, 0.8, 1, 1.2, 1.4]],
          [[0.2, 0.4, 0.6, 0.8], [0.2, 0.4, 0.6, 0.8], [0.2, 0.4, 0.6, 0.8]]]
ylims = [(-1, 1), (-0.5, 0.5), (-1, 1), (-0.5, 0.5)]
yticks = [[-1, 0, 1], [-0.5, 0, 0.5], [-1, 0, 1], [-0.5, 0, 0.5]]

points = [[a_ap_op, a_ap_dt, a_op_dt],
          [a2_ap_op, a2_ap_dt, a2_op_dt],
          [b_ap_op, b_ap_dt, b_op_dt],
          [b2_ap_op, b2_ap_dt, b2_op_dt]]
lines = [[a_ap_op_lines, a_ap_dt_lines, a_op_dt_lines],
         [a2_ap_op_lines, a2_ap_dt_lines, a2_op_dt_lines],
         [b_ap_op_lines, b_ap_dt_lines, b_op_dt_lines],
         [b2_ap_op_lines, b2_ap_dt_lines, b2_op_dt_lines]]

W, H = 797.0, 895.0
col_px = [(55, 260), (325, 527), (594, 795)]
row_px = [(21.7, 166.7), (239.3, 383.3), (486, 631.7), (704.3, 847.7)]

fig = plt.figure(figsize=(W / 100, H / 100), dpi=100)
fmt = FuncFormatter(lambda v, p: '%g' % v)
blue = '#0072BD'

for r in range(4):
    for c in range(3):
        x0, x1 = col_px[c]
        t0, t1 = row_px[r]
        ax = fig.add_axes([x0 / W, 1 - t1 / H, (x1 - x0) / W, (t1 - t0) / H])
        pts = points[r][c]
        xs = [p[0] for p in pts]
        ys = [p[1] for p in pts]
        ax.plot(xs, ys, 'o', mfc='none', mec=blue, ms=5.6, mew=0.75, zorder=2)
        for k, v in enumerate(lines[r][c]):
            col = '#3c3c3c' if k == 1 else '#6a6a6a'
            ax.axhline(v, color=col, lw=1.0, dashes=(7, 3.6), zorder=3)
        ax.set_xlim(*xlims[r][c])
        ax.set_ylim(*ylims[r])
        ax.set_xticks(xticks[r][c])
        ax.set_yticks(yticks[r])
        ax.xaxis.set_major_formatter(fmt)
        ax.yaxis.set_major_formatter(fmt)
        for s in ['top', 'right']:
            ax.spines[s].set_visible(False)
        for s in ['left', 'bottom']:
            ax.spines[s].set_color('#808080')
            ax.spines[s].set_linewidth(0.8)
        ax.tick_params(direction='in', length=3, width=0.8, color='#808080',
                       labelsize=12, labelcolor='#1a1a1a', pad=5)
        ax.set_xlabel('Mean', fontsize=12, labelpad=8)
        ax.set_ylabel('Difference', fontsize=12, labelpad=-1)
        if r in (0, 2):
            ax.set_title(titles[c], fontsize=12.5, fontweight='bold', pad=5)
        if r == 0 and c == 0:
            ax.text(0.10, 0.82, 'A', transform=ax.transAxes, fontsize=12.5,
                    fontweight='bold', ha='center', va='center')
        if r == 2 and c == 0:
            ax.text(0.10, 0.88, 'B', transform=ax.transAxes, fontsize=12.5,
                    fontweight='bold', ha='center', va='center')

fig.savefig('out.png', dpi=100)
